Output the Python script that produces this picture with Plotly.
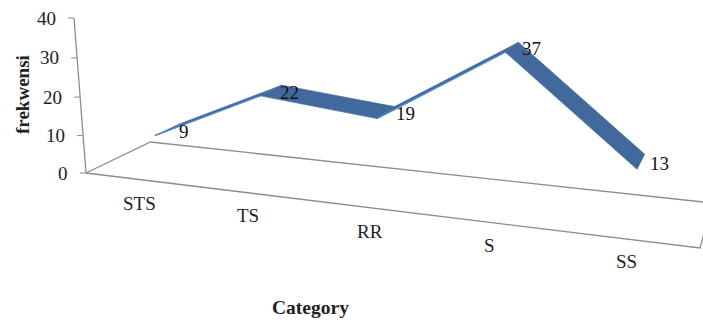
import plotly.graph_objects as go

categories = ["STS", "TS", "RR", "S", "SS"]
values = [9, 22, 19, 37, 13]
value_ticks = [0, 10, 20, 30, 40]
value_max = 40

# Ribbon occupies the middle of the floor's depth
DEPTH_FRONT = 0.3
DEPTH_BACK = 0.7

RIBBON = "#41699C"
RIBBON_EDGE = "#4F8CCB"
FRAME = "#8C8C8C"
INK = "#222222"
FONT = "Liberation Serif"


def project(c, d, v):
    """Perspective projection of (category share, depth share, value) to the plot plane."""
    u = v / value_max
    k = -0.04 * u
    w = 1 - 0.1792 * c + 0.09733 * d + k
    x = 86 + 488.6 * c + 79.15 * d - 12 * u + 74 * k
    y = 173 + 30.56 * c - 17.18 * d - 155 * u + 18 * k
    return x / w, y / w


def polyline(points, color, width, fill=None):
    xs, ys = zip(*points)
    return go.Scatter(
        x=list(xs), y=list(ys), mode="lines",
        line=dict(color=color, width=width),
        fill="toself" if fill else None, fillcolor=fill,
        hoverinfo="skip", showlegend=False,
    )


fig = go.Figure()

# Floor outline and value axis
floor = [project(*p, 0) for p in [(0, 0), (1, 0), (1, 1), (0, 1), (0, 0)]]
fig.add_trace(polyline(floor, FRAME, 1.3))
fig.add_trace(polyline([project(0, 0, 0), project(0, 0, value_max)], FRAME, 1.3))

# Value ticks and their labels
for t in value_ticks:
    x, y = project(0, 0, t)
    fig.add_trace(polyline([(x - 6, y), (x, y)], FRAME, 1.0))
    fig.add_annotation(x=x - 16, y=y, text=str(t), xanchor="right", yanchor="middle",
                       showarrow=False, font=dict(family=FONT, size=19, color=INK))

# Ribbon, one quad per pair of neighbouring categories
centres = [(i + 0.5) / len(categories) for i in range(len(categories))]
for i in range(len(values) - 1):
    c0, c1, v0, v1 = centres[i], centres[i + 1], values[i], values[i + 1]
    quad = [project(c0, DEPTH_FRONT, v0), project(c1, DEPTH_FRONT, v1),
            project(c1, DEPTH_BACK, v1), project(c0, DEPTH_BACK, v0),
            project(c0, DEPTH_FRONT, v0)]
    fig.add_trace(polyline(quad, RIBBON, 0.6, fill=RIBBON))
    if v1 > v0:
        # Rising stretches show a lighter lower edge
        fig.add_trace(polyline(quad[:2], RIBBON_EDGE, 1.3))

# Value labels beside the back edge of the ribbon
label_offsets = [(4, 8), (8, 7), (11, 7), (13, 6), (15, 9)]
for c, v, (dx, dy) in zip(centres, values, label_offsets):
    x, y = project(c, DEPTH_BACK, v)
    fig.add_annotation(x=x + dx, y=y + dy, text=str(v), xanchor="center", yanchor="middle",
                       showarrow=False, font=dict(family=FONT, size=19, color="#111111"))

# Category labels below the front edge
category_offsets = [(2, 24), (2, 23), (7, 25), (0, 23), (0, 22)]
for name, c, (dx, dy) in zip(categories, centres, category_offsets):
    x, y = project(c, 0, 0)
    fig.add_annotation(x=x + dx, y=y + dy, text=name, xanchor="center", yanchor="middle",
                       showarrow=False, font=dict(family=FONT, size=19, color=INK))

fig.add_annotation(x=310, y=307, text="<b>Category</b>", xanchor="center", yanchor="middle",
                   showarrow=False, font=dict(family=FONT, size=19.5, color=INK))
fig.add_annotation(x=22, y=95, text="<b>frekwensi</b>", textangle=-90, xanchor="center",
                   yanchor="middle", showarrow=False,
                   font=dict(family=FONT, size=19, color=INK))

fig.update_layout(
    width=703, height=320, margin=dict(l=0, r=0, t=0, b=0),
    paper_bgcolor="white", plot_bgcolor="white", showlegend=False,
    xaxis=dict(range=[0, 703], visible=False, fixedrange=True),
    yaxis=dict(range=[320, 0], visible=False, fixedrange=True),
)
fig.write_html("out.html", config={"displayModeBar": False})
